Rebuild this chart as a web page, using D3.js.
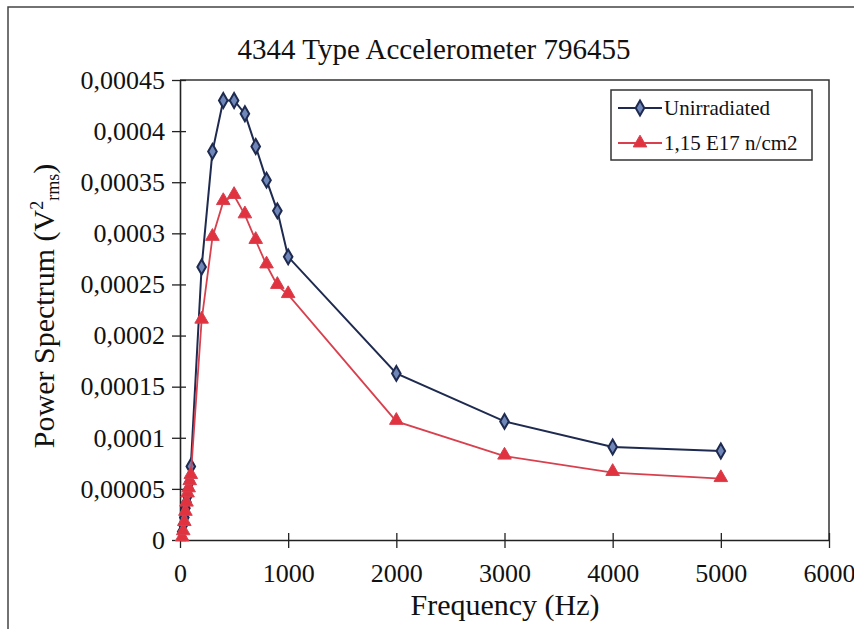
<!DOCTYPE html>
<html>
<head>
<meta charset="utf-8">
<script src="https://cdn.jsdelivr.net/npm/d3@7"></script>
<style>
  html, body { margin: 0; padding: 0; background: #fff; }
  svg text { font-family: "Liberation Serif", "Times New Roman", serif; fill: #111; }
</style>
</head>
<body>
<svg id="chart" width="854" height="629"></svg>
<script>
// Frequencies (Hz) of the measurement points
const frequencies = [20, 30, 40, 50, 60, 70, 80, 90, 100, 200, 300, 400, 500, 600, 700, 800, 900, 1000, 2000, 3000, 4000, 5000];
// Power spectrum (V² rms), unirradiated accelerometer
const unirradiated = [0.000008, 0.000015, 0.000022, 0.000031, 0.000037, 0.000043, 0.000050, 0.000057, 0.000072,
  0.000267, 0.000380, 0.000430, 0.000430, 0.000417, 0.000385, 0.000352, 0.000322, 0.000277,
  0.000163, 0.000116, 0.000091, 0.000087];
// Power spectrum (V² rms) after 1,15 E17 n/cm2
const irradiated = [0.000002, 0.000008, 0.000017, 0.000027, 0.000036, 0.000045, 0.000050, 0.000057, 0.000063,
  0.000215, 0.000296, 0.000331, 0.000337, 0.000318, 0.000293, 0.000269, 0.000249, 0.000240,
  0.000116, 0.000082, 0.000066, 0.000060];
const seriesNames = ["Unirradiated", "1,15 E17 n/cm2"];
const xTicks = [0, 1000, 2000, 3000, 4000, 5000, 6000];
const yTicks = [0, 0.00005, 0.0001, 0.00015, 0.0002, 0.00025, 0.0003, 0.00035, 0.0004, 0.00045];
const yTickLabels = ["0", "0,00005", "0,0001", "0,00015", "0,0002", "0,00025", "0,0003", "0,00035", "0,0004", "0,00045"];

const svg = d3.select("#chart");
const plot = { left: 180, right: 829, top: 80, bottom: 540 };

const x = d3.scaleLinear().domain([0, 6000]).range([plot.left, plot.right]);
const y = d3.scaleLinear().domain([0, 0.00045]).range([plot.bottom, plot.top]);

// Outer chart frame
svg.append("path")
  .attr("d", `M8,629 L8,7 L854,7`)
  .attr("fill", "none").attr("stroke", "#444").attr("stroke-width", 1.5);

// Plot area frame (top and right)
svg.append("path")
  .attr("d", `M${plot.left},${plot.top} L${plot.right},${plot.top} L${plot.right},${plot.bottom}`)
  .attr("fill", "none").attr("stroke", "#333").attr("stroke-width", 1.5);

// Axes with crossing tick marks
const xAxis = svg.append("g").attr("transform", `translate(0,${plot.bottom})`)
  .call(d3.axisBottom(x).tickValues(xTicks).tickFormat(d3.format("d")).tickSizeInner(8).tickSizeOuter(0).tickPadding(16));
xAxis.selectAll(".tick line").attr("y1", -7);
const yAxis = svg.append("g").attr("transform", `translate(${plot.left},0)`)
  .call(d3.axisLeft(y).tickValues(yTicks).tickFormat((d, i) => yTickLabels[i]).tickSizeInner(8).tickSizeOuter(0).tickPadding(7));
yAxis.selectAll(".tick line").attr("x1", 6);
[xAxis, yAxis].forEach(a => {
  a.select(".domain").attr("stroke", "#222").attr("stroke-width", 1.6);
  a.selectAll(".tick line").attr("stroke", "#222").attr("stroke-width", 1.3);
  a.selectAll(".tick text").style("font-size", "26px").attr("fill", "#111");
});

// Series lines and markers
const blue = "#1e2a4f", red = "#d8404e";
const line = d3.line().x(d => x(d[0])).y(d => y(d[1]));
const blueData = frequencies.map((f, i) => [f, unirradiated[i]]);
const redData = frequencies.map((f, i) => [f, irradiated[i]]);
const diamond = d3.symbol().type(d3.symbolDiamond).size(64);
const triangle = d3.symbol().type(d3.symbolTriangle).size(80);

svg.append("path").datum(blueData).attr("d", line)
  .attr("fill", "none").attr("stroke", blue).attr("stroke-width", 2);
svg.append("g").selectAll("path").data(blueData).join("path")
  .attr("d", diamond).attr("transform", d => `translate(${x(d[0])},${y(d[1])})`)
  .attr("fill", "#6f86b8").attr("stroke", blue).attr("stroke-width", 2);

svg.append("path").datum(redData).attr("d", line)
  .attr("fill", "none").attr("stroke", red).attr("stroke-width", 1.8);
svg.append("g").selectAll("path").data(redData).join("path")
  .attr("d", triangle).attr("transform", d => `translate(${x(d[0])},${y(d[1]) - 1})`)
  .attr("fill", "#e0323f").attr("stroke", red).attr("stroke-width", 1);

// Title
svg.append("text").attr("x", 434).attr("y", 59).attr("text-anchor", "middle")
  .style("font-size", "29px").text("4344 Type Accelerometer 796455");

// Axis titles
svg.append("text").attr("x", 505).attr("y", 615).attr("text-anchor", "middle")
  .style("font-size", "30px").text("Frequency (Hz)");
const yt = svg.append("text").attr("transform", "translate(54,306) rotate(-90)")
  .attr("text-anchor", "middle").style("font-size", "30px");
yt.append("tspan").text("Power Spectrum (V");
yt.append("tspan").attr("dy", -11).style("font-size", "18px").text("2");
yt.append("tspan").attr("dy", 16).style("font-size", "18px").text("rms");
yt.append("tspan").attr("dy", -5).text(")");

// Legend
const lg = svg.append("g");
lg.append("rect").attr("x", 611).attr("y", 90).attr("width", 201).attr("height", 70)
  .attr("fill", "#fff").attr("stroke", "#333").attr("stroke-width", 1.5);
const entries = [
  { name: seriesNames[0], color: blue, sym: diamond, fill: "#6f86b8", yy: 108 },
  { name: seriesNames[1], color: red, sym: triangle, fill: "#e0323f", yy: 143 }
];
entries.forEach(e => {
  lg.append("line").attr("x1", 618).attr("x2", 662).attr("y1", e.yy).attr("y2", e.yy)
    .attr("stroke", e.color).attr("stroke-width", 2);
  lg.append("path").attr("d", e.sym).attr("transform", `translate(640,${e.yy})`)
    .attr("fill", e.fill).attr("stroke", e.color).attr("stroke-width", e === entries[0] ? 2 : 1);
  lg.append("text").attr("x", 664).attr("y", e.yy + 7).style("font-size", "21px").text(e.name);
});
</script>
</body>
</html>
